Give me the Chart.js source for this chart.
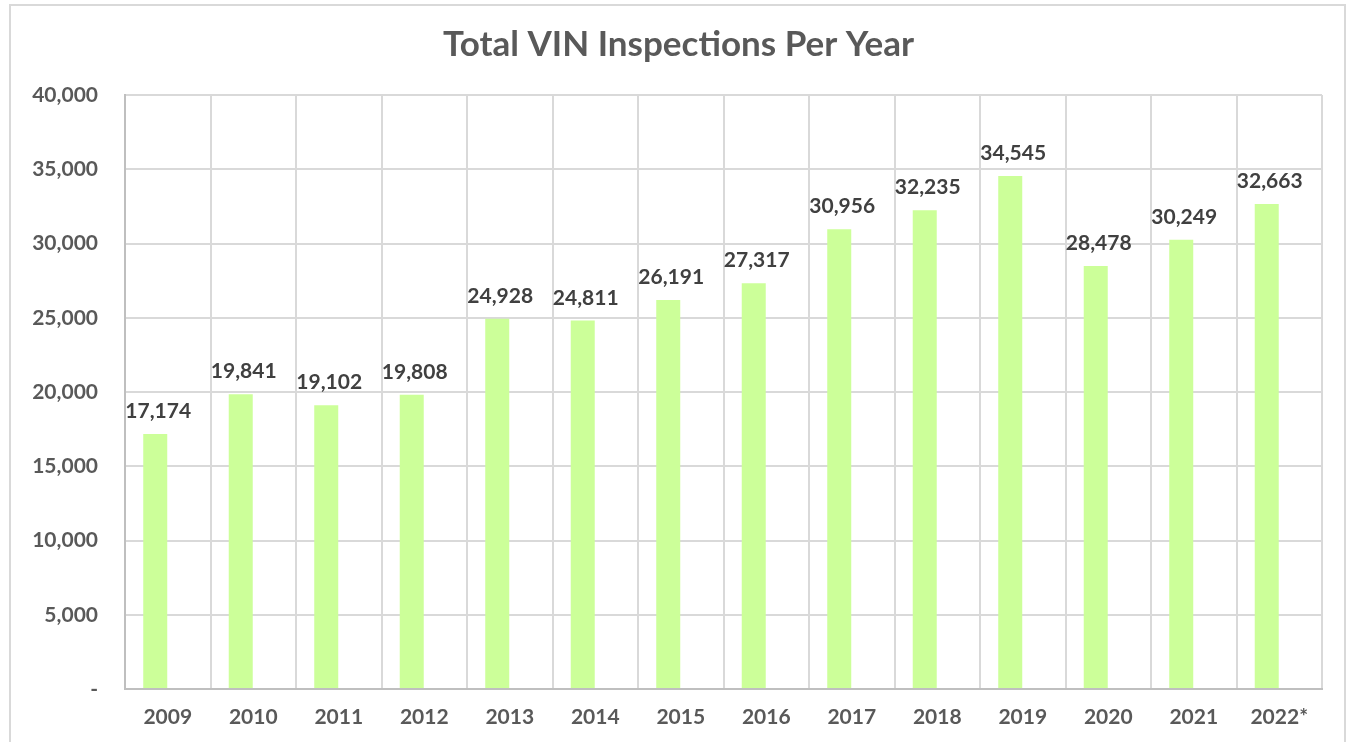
<!DOCTYPE html>
<html>
<head>
<meta charset="utf-8">
<script src="https://cdn.jsdelivr.net/npm/chart.js@4/dist/chart.umd.min.js"></script>
<style>
html,body{margin:0;padding:0;background:#fff;}
#wrap{position:relative;width:1351px;height:742px;overflow:hidden;}
#frame{position:absolute;left:9px;top:4px;width:1337px;height:760px;border:2px solid #d9d9d9;box-sizing:border-box;}
canvas{position:absolute;left:0;top:0;}
</style>
</head>
<body>
<div id="wrap">
<div id="frame"></div>
<canvas id="vinChart" width="1351" height="742"></canvas>
</div>
<script>

const years = ["2009","2010","2011","2012","2013","2014","2015","2016","2017","2018","2019","2020","2021","2022*"]
const inspections = [17174,19841,19102,19808,24928,24811,26191,27317,30956,32235,34545,28478,30249,32663]
// second (empty) series in the source workbook, it pushes the bars left of centre
const emptySeries = [null,null,null,null,null,null,null,null,null,null,null,null,null,null]
const yTicks = [0,5000,10000,15000,20000,25000,30000,35000,40000]

const fmt = v => v.toLocaleString("en-US")

// labels above each bar
const barLabels = {
id:"barLabels",
afterDatasetsDraw(chart){
const ctx = chart.ctx
const meta = chart.getDatasetMeta(0)
ctx.save()
ctx.font = "bold 21px Lato"
ctx.fillStyle = "#404040"
ctx.textAlign = "center"
ctx.textBaseline = "alphabetic"
meta.data.forEach((bar,i)=>{
ctx.fillText(fmt(inspections[i]), bar.x + 3, bar.y - 16)
})
ctx.restore()
}
}

new Chart(document.getElementById("vinChart"),{
type:"bar",
data:{
labels:years,
datasets:[{
data:inspections,
backgroundColor:"#ccff99",
categoryPercentage:0.585,
barPercentage:0.96
},{
data:emptySeries,
backgroundColor:"#ccff99",
categoryPercentage:0.585,
barPercentage:0.96
}]
},
plugins:[barLabels],
options:{
responsive:false,
animation:false,
layout:{padding:{left:22,right:16,top:0,bottom:18}},
plugins:{
legend:{display:false},
tooltip:{enabled:false},
title:{
display:true,
text:"Total VIN Inspections Per Year",
color:"#595959",
font:{family:"Lato",size:35,weight:"bold"},
padding:{top:24,bottom:29}
}
},
scales:{
x:{
grid:{color:"#d9d9d9",lineWidth:2,drawTicks:false},
border:{color:"#bfbfbf",width:2},
ticks:{color:"#595959",font:{family:"Lato",size:21,weight:"bold"},padding:16},
afterFit(axis){ axis.height = 35 }
},
y:{
min:0,max:40000,
afterBuildTicks(axis){ axis.ticks = yTicks.map(v=>({value:v})) },
grid:{color:"#d9d9d9",lineWidth:2,drawTicks:false},
border:{color:"#bfbfbf",width:2},
ticks:{
color:"#595959",
font:{family:"Lato",size:21,weight:"bold"},
padding:27,
callback:v => v==0 ? "-" : fmt(v)
},
afterFit(axis){ axis.width = 103 }
},
// empty right gutter so the title centres on the frame
yRight:{
position:"right",
min:0,max:40000,
grid:{drawOnChartArea:false,drawTicks:false},
border:{display:false},
ticks:{display:false},
afterFit(axis){ axis.width = 13 }
}
}
}
})

</script>
</body>
</html>
